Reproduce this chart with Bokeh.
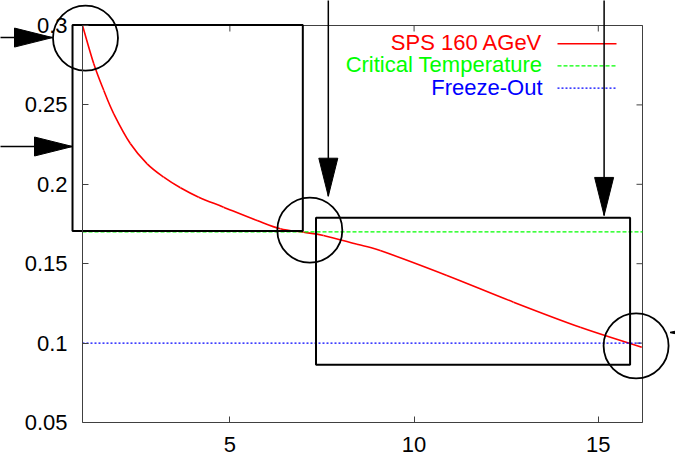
import numpy as np
from bokeh.plotting import figure
from bokeh.models import Range1d, LinearAxis, FixedTicker
from bokeh.core.properties import value
from bokeh.embed import file_html
from bokeh.resources import INLINE

# ---------------- data ----------------
time_fm = [1.00, 1.306, 1.578, 1.849, 2.302, 2.755, 3.205, 3.658, 4.154, 4.83, 5.74,
           6.37, 7.00, 7.54, 8.45, 9.08, 10.89, 12.70, 14.51, 16.18]
temperature = [0.300, 0.2759, 0.2591, 0.2444, 0.2255, 0.2129, 0.2045, 0.1978, 0.1919,
               0.1856, 0.1772, 0.1720, 0.1698, 0.1678, 0.1622, 0.1583, 0.1426, 0.1258,
               0.1100, 0.0974]
critical_temperature = 0.17
freeze_out = 0.10
series_names = ["SPS 160 AGeV", "Critical Temperature", "Freeze-Out"]
x_ticks = [5, 10, 15]
x_tick_labels = ["5", "10", "15"]
y_ticks = [0.05, 0.1, 0.15, 0.2, 0.25, 0.3]
y_tick_labels = ["0.05", "0.1", "0.15", "0.2", "0.25", "0.3"]

# ---------------- geometry / styling ----------------
FONT = "Liberation Sans"
FS = "22px"
AX = "#404040"
RED, GREEN, BLUE = "#ff0000", "#00ff00", "#0000ff"
X0, X1 = 1.0, 16.2          # axis limits
Y0, Y1 = 0.05, 0.30
W, H = 675, 461
FL, FR, FT, FB = 82, 642, 25, 422   # plot box in pixels
PX = (X1 - X0) / (FR - FL)          # data per pixel (x)
PY = (Y1 - Y0) / (FB - FT)          # data per pixel (y)

# the canvas is one big frame so that the hand-drawn marks outside the axes box show
p = figure(width=W, height=H, output_backend="svg", toolbar_location=None,
           x_range=Range1d(X0 - FL * PX, X1 + (W - FR) * PX),
           y_range=Range1d(Y0 - (H - FB) * PY, Y1 + FT * PY),
           min_border=0, x_axis_type=None, y_axis_type=None)
p.xgrid.visible = False
p.ygrid.visible = False
p.outline_line_color = None
p.background_fill_color = "white"
p.border_fill_color = "white"


def style_axis(ax, ticks, labels, standoff):
    ax.ticker = FixedTicker(ticks=ticks)
    ax.major_label_overrides = {t: l for t, l in zip(ticks, labels)}
    ax.axis_line_color = AX
    ax.axis_line_width = 1
    ax.major_tick_line_color = AX
    ax.major_tick_in = 6
    ax.major_tick_out = 0
    ax.minor_tick_line_color = None
    ax.major_label_text_font = FONT
    ax.major_label_text_font_size = FS
    ax.major_label_text_color = "black"
    ax.major_label_standoff = standoff


xb = LinearAxis(fixed_location=Y0, bounds=(X0, X1))
style_axis(xb, x_ticks, x_tick_labels, 14)
p.add_layout(xb, "below")
yl = LinearAxis(fixed_location=X0, bounds=(Y0, Y1))
style_axis(yl, y_ticks, y_tick_labels, 15)
p.add_layout(yl, "left")

# mirrored border and ticks on top and right (gnuplot style)
p.line([X0, X1, X1], [Y1, Y1, Y0], line_color=AX, line_width=1)
p.segment(x0=x_ticks, x1=x_ticks, y0=[Y1] * len(x_ticks), y1=[Y1 - 6 * PY] * len(x_ticks),
          line_color=AX, line_width=1)
p.segment(x0=[X1] * len(y_ticks), x1=[X1 - 6 * PX] * len(y_ticks), y0=y_ticks, y1=y_ticks,
          line_color=AX, line_width=1)

# ---------------- series ----------------
# smooth rendering through the read points (Catmull-Rom segments as cubic Beziers)
tx = np.array(time_fm)
ty = np.array(temperature)
px_ = np.concatenate([[2 * tx[0] - tx[1]], tx, [2 * tx[-1] - tx[-2]]])
py_ = np.concatenate([[2 * ty[0] - ty[1]], ty, [2 * ty[-1] - ty[-2]]])
n = len(tx) - 1
p.bezier(x0=px_[1:n + 1], y0=py_[1:n + 1], x1=px_[2:n + 2], y1=py_[2:n + 2],
         cx0=px_[1:n + 1] + (px_[2:n + 2] - px_[0:n]) / 6,
         cy0=py_[1:n + 1] + (py_[2:n + 2] - py_[0:n]) / 6,
         cx1=px_[2:n + 2] - (px_[3:n + 3] - px_[1:n + 1]) / 6,
         cy1=py_[2:n + 2] - (py_[3:n + 3] - py_[1:n + 1]) / 6,
         line_color=RED, line_width=1.6)
p.line([X0, X1], [critical_temperature] * 2, line_color=GREEN, line_width=1.2, line_dash="4 2")
p.line([X0, X1], [freeze_out] * 2, line_color=BLUE, line_width=1.3, line_dash="2 2")

# ---------------- gnuplot style key ----------------
key_text_x = X0 + (542 - FL) * PX
key_line_x = [X0 + (557 - FL) * PX, X0 + (616 - FL) * PX]
key_rows_px = [43.3, 65.3, 87.7]
key_styles = [(RED, None, 1.6), (GREEN, "4 2", 1.2), (BLUE, "2 2", 1.3)]
for name, rpx, (col, dash, lw) in zip(series_names, key_rows_px, key_styles):
    yy = Y1 - (rpx - FT) * PY
    p.text(x=[key_text_x], y=[yy + PY], text=[name], text_color=col, text_align="right",
           text_baseline="middle", text_font=value(FONT), text_font_size=FS)
    kw = dict(line_color=col, line_width=lw)
    if dash:
        kw["line_dash"] = dash
    p.line(key_line_x, [yy, yy], **kw)

# ---------------- hand-drawn marks (boxes, circles, arrows) ----------------
p.quad(left=[0.729, 7.338], right=[6.98, 15.863], bottom=[0.1706, 0.0863], top=[0.3003, 0.1789],
       fill_color=None, line_color="black", line_width=2)
p.scatter(x=[1.081, 7.170, 16.026], y=[0.2921, 0.1711, 0.0983], marker="circle", size=65,
          fill_color=None, line_color="black", line_width=1.8)

# arrows: (start x, start y, tip x, tip y)
arrows = [(-1.4, 0.2924, 0.186, 0.2924),
          (-1.4, 0.2238, 0.729, 0.2238),
          (7.672, 0.33, 7.672, 0.1925),
          (15.158, 0.33, 15.158, 0.1804),
          (18.5, 0.1067, 16.948, 0.1067)]
HL, HW = 38, 9.5   # head length / half width in pixels
p.segment(x0=[a[0] for a in arrows], y0=[a[1] for a in arrows],
          x1=[a[2] for a in arrows], y1=[a[3] for a in arrows],
          line_color="black", line_width=1.5)
hx, hy = [], []
for xs, ys, xe, ye in arrows:
    if ys == ye:
        d = 1 if xe > xs else -1
        hx.append([xe, xe - d * HL * PX, xe - d * HL * PX])
        hy.append([ye, ye + HW * PY, ye - HW * PY])
    else:
        d = 1 if ye > ys else -1
        hx.append([xe, xe + HW * PX, xe - HW * PX])
        hy.append([ye, ye - d * HL * PY, ye - d * HL * PY])
p.patches(hx, hy, fill_color="black", line_color="black", line_width=1)

open("out.html", "w").write(file_html(p, INLINE))
